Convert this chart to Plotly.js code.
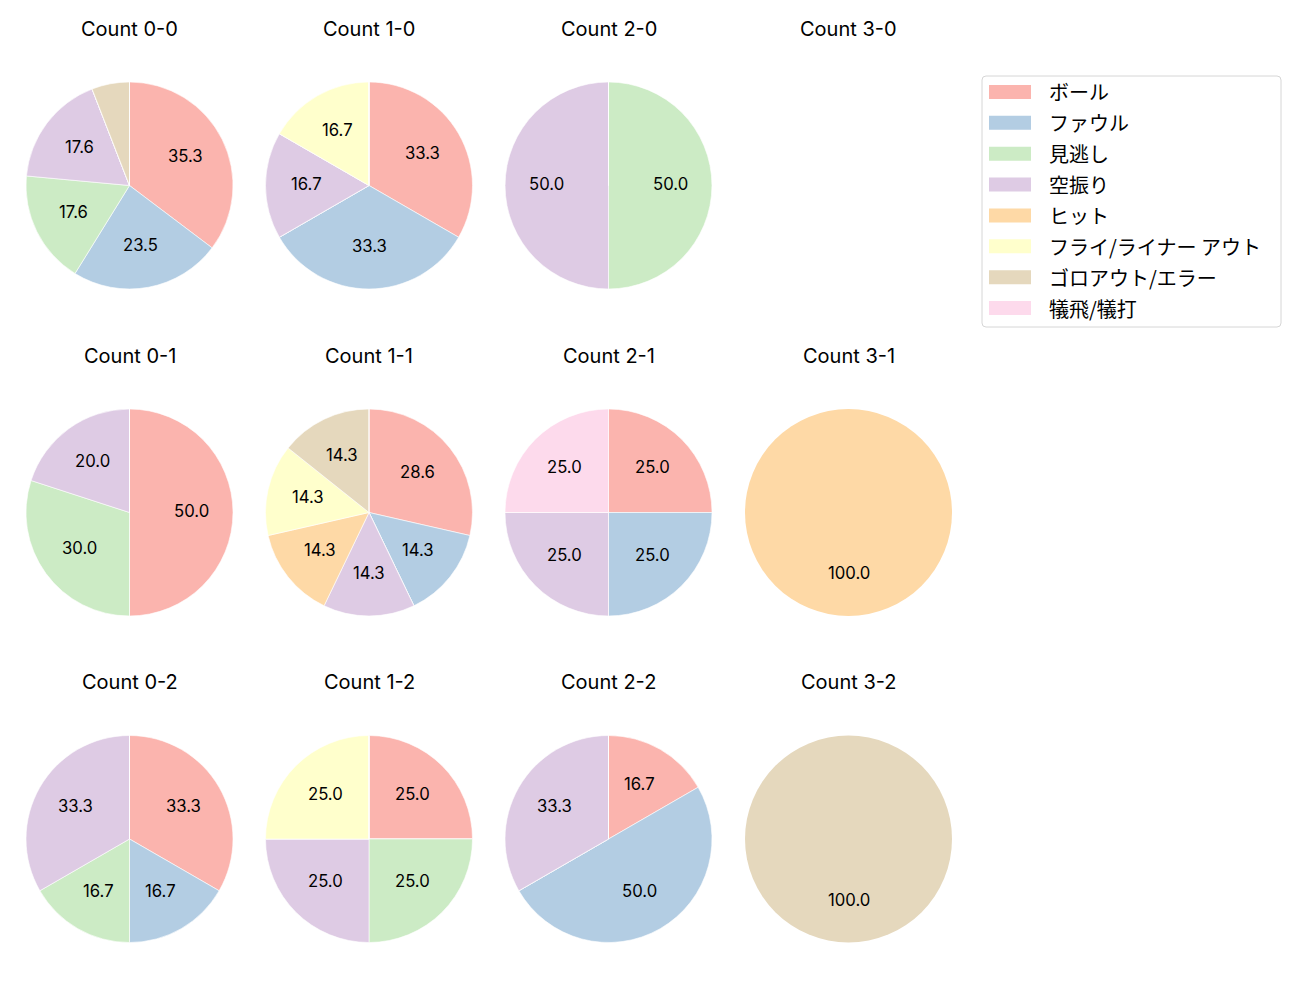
<!DOCTYPE html>
<html>
<head>
<meta charset="utf-8">
<script src="https://cdn.plot.ly/plotly-3.0.1.min.js"></script>
<style>html,body{margin:0;padding:0;background:#fff;}#chart{width:1300px;height:1000px;}</style>
</head>
<body>
<div id="chart"></div>
<script>
const categories = ['ボール','ファウル','見逃し','空振り','ヒット','フライ/ライナー アウト','ゴロアウト/エラー','犠飛/犠打'];
const colors = ['#fbb4ae','#b3cde3','#ccebc5','#decbe4','#fed9a6','#ffffcc','#e5d8bd','#fddaec'];
const titles = ['Count 0-0','Count 1-0','Count 2-0','Count 3-0',
                'Count 0-1','Count 1-1','Count 2-1','Count 3-1',
                'Count 0-2','Count 1-2','Count 2-2','Count 3-2'];
const count00 = [6,4,3,3,0,0,1,0];
const count10 = [2,2,0,1,0,1,0,0];
const count20 = [0,0,1,1,0,0,0,0];
const count30 = [0,0,0,0,0,0,0,0];
const count01 = [5,0,3,2,0,0,0,0];
const count11 = [2,1,0,1,1,1,1,0];
const count21 = [1,1,0,1,0,0,0,1];
const count31 = [0,0,0,0,1,0,0,0];
const count02 = [2,1,1,2,0,0,0,0];
const count12 = [1,0,1,1,0,1,0,0];
const count22 = [1,3,0,2,0,0,0,0];
const count32 = [0,0,0,0,0,0,1,0];
const allCounts = [count00,count10,count20,count30,count01,count11,count21,count31,count02,count12,count22,count32];

const W = 1300, H = 1000;
const colX = [129.5, 369, 608.5, 848.5];
const rowY = [185.5, 512.5, 839];
const R = 103.5;
const FONT = 'Inter, "Noto Sans CJK JP", sans-serif';

const data = [];
const annotations = [];
const shapes = [];
allCounts.forEach((vals, i) => {
  const col = i % 4, row = Math.floor(i / 4);
  const cx = colX[col], cy = rowY[row];
  annotations.push({
    text: titles[i], xref: 'paper', yref: 'paper', showarrow: false,
    x: cx / W, y: 1 - (29 + row * 326.7) / H, xanchor: 'center', yanchor: 'middle',
    font: {family: FONT, size: 20, color: '#000'}
  });
  const total = vals.reduce((a, b) => a + b, 0);
  if (total === 0) return;
  const nonzero = vals.filter(v => v > 0).length;
  data.push({
    type: 'pie', labels: categories, values: vals, sort: false, direction: 'clockwise', rotation: 0,
    marker: {colors: colors, line: {color: '#ffffff', width: nonzero > 1 ? 0.6 : 0}},
    textinfo: 'none', hoverinfo: 'none', showlegend: false,
    domain: {x: [(cx - R) / W, (cx + R) / W], y: [1 - (cy + R) / H, 1 - (cy - R) / H]}
  });
  let cum = 0;
  vals.forEach(v => {
    if (v === 0) return;
    const pct = v / total * 100;
    const mid = (cum + v / 2) / total * 2 * Math.PI;
    cum += v;
    if (pct < 10) return;
    const px = cx + 0.6 * R * Math.sin(mid);
    const py = cy - 0.6 * R * Math.cos(mid) - 1.5;
    annotations.push({
      text: pct.toFixed(1), xref: 'paper', yref: 'paper', showarrow: false,
      x: px / W, y: 1 - py / H, xanchor: 'center', yanchor: 'middle',
      font: {family: FONT, size: 16.7, color: '#000'}
    });
  });
});

// legend box (drawn from categories / colors)
const lx0 = 982, lx1 = 1281, ly0 = 76, ly1 = 327, rr = 4;
shapes.push({
  type: 'path', xref: 'paper', yref: 'paper',
  path: (() => {
    const X = x => (x / W), Y = y => (1 - y / H);
    return `M ${X(lx0+rr)},${Y(ly0)} L ${X(lx1-rr)},${Y(ly0)} Q ${X(lx1)},${Y(ly0)} ${X(lx1)},${Y(ly0+rr)} ` +
           `L ${X(lx1)},${Y(ly1-rr)} Q ${X(lx1)},${Y(ly1)} ${X(lx1-rr)},${Y(ly1)} ` +
           `L ${X(lx0+rr)},${Y(ly1)} Q ${X(lx0)},${Y(ly1)} ${X(lx0)},${Y(ly1-rr)} ` +
           `L ${X(lx0)},${Y(ly0+rr)} Q ${X(lx0)},${Y(ly0)} ${X(lx0+rr)},${Y(ly0)} Z`;
  })(),
  line: {color: '#d6d6d6', width: 1}, fillcolor: 'rgba(255,255,255,0.8)'
});
categories.forEach((c, k) => {
  const yc = 92 + k * 30.86;
  shapes.push({
    type: 'rect', xref: 'paper', yref: 'paper',
    x0: 989 / W, x1: 1031 / W, y0: 1 - (yc - 7) / H, y1: 1 - (yc + 7) / H,
    fillcolor: colors[k], line: {width: 0}
  });
  annotations.push({
    text: c, xref: 'paper', yref: 'paper', showarrow: false,
    x: 1047 / W, y: 1 - yc / H, xanchor: 'left', yanchor: 'middle',
    font: {family: '"Noto Sans CJK JP", Inter, sans-serif', size: 20, color: '#000'}
  });
});

const layout = {
  width: W, height: H, margin: {l: 0, r: 0, t: 0, b: 0},
  paper_bgcolor: '#fff', plot_bgcolor: '#fff',
  showlegend: false,
  annotations: annotations,
  shapes: shapes,
  font: {family: FONT}
};
Plotly.newPlot('chart', data, layout, {displayModeBar: false, staticPlot: true});
</script>
</body>
</html>
